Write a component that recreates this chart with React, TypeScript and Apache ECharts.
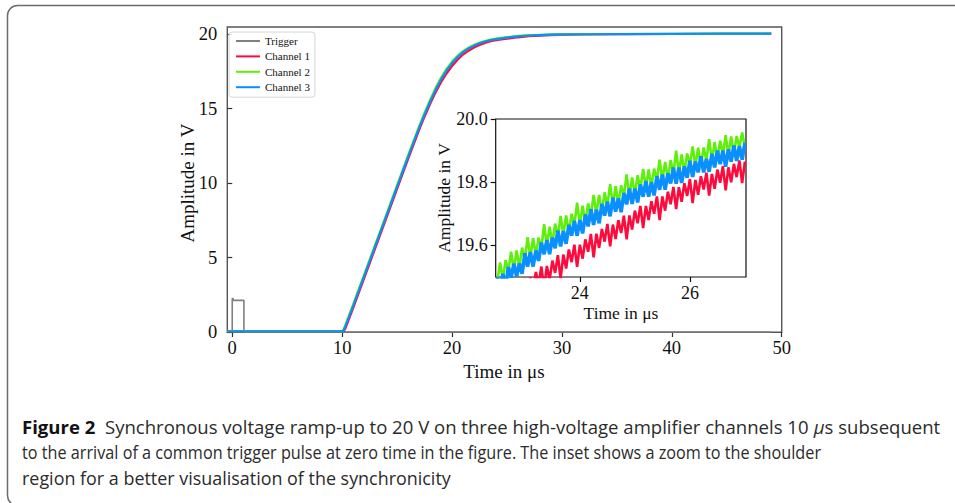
import React, { useEffect, useRef } from "react";
import * as echarts from "echarts";

// ---------- data ----------
const SERIES_NAMES = ["Trigger", "Channel 1", "Channel 2", "Channel 3"];
const SERIES_COLORS = ["#808080", "#ff0a3c", "#5ef00a", "#0a8fff"];

const TRIGGER: [number, number][] = [
  [0, 0], [0, 2.25], [0.08, 2.25], [0.1, 2.12], [1.06, 2.12], [1.06, 0], [49.05, 0],
];

const CH1_MAIN: [number, number][] = [
  [-0.45, 0.05], [10.15, 0.05], [10.3, 0.25], [11, 1.6], [12, 3.6], [13, 5.6], [14, 7.6], [15, 9.6],
  [16, 11.6], [17, 13.55], [17.5, 14.45], [18, 15.3], [18.5, 16.08], [19, 16.76], [19.5, 17.35],
  [20, 17.85], [20.5, 18.27], [21, 18.62], [21.5, 18.88], [22, 19.09], [22.5, 19.26], [23, 19.4],
  [23.5, 19.52], [24, 19.58], [25, 19.685], [26, 19.78], [27, 19.85], [28, 19.89], [29, 19.92],
  [30, 19.94], [32, 19.965], [35, 19.985], [40, 20.0], [45, 20.01], [49.05, 20.02],
];

const CH2_MAIN: [number, number][] = [
  [-0.45, 0.05], [10.05, 0.05], [10.2, 0.3], [11, 1.85], [12, 3.85], [13, 5.85], [14, 7.85], [15, 9.85],
  [16, 11.85], [17, 13.8], [17.5, 14.72], [18, 15.58], [18.5, 16.38], [19, 17.08], [19.5, 17.66],
  [20, 18.15], [20.5, 18.54], [21, 18.85], [21.5, 19.09], [22, 19.27], [22.5, 19.42], [23, 19.53],
  [23.5, 19.63], [24, 19.69], [25, 19.79], [26, 19.87], [27, 19.92], [28, 19.95], [29, 19.97],
  [30, 19.98], [32, 19.995], [35, 20.0], [40, 20.015], [45, 20.02], [49.05, 20.03],
];

const CH3_MAIN: [number, number][] = [
  [-0.45, 0.05], [10.1, 0.05], [10.25, 0.3], [11, 1.75], [12, 3.75], [13, 5.75], [14, 7.75], [15, 9.75],
  [16, 11.75], [17, 13.7], [17.5, 14.6], [18, 15.45], [18.5, 16.25], [19, 16.95], [19.5, 17.55],
  [20, 18.05], [20.5, 18.45], [21, 18.78], [21.5, 19.03], [22, 19.22], [22.5, 19.38], [23, 19.5],
  [23.5, 19.6], [24, 19.66], [25, 19.76], [26, 19.84], [27, 19.9], [28, 19.93], [29, 19.955],
  [30, 19.97], [32, 19.985], [35, 19.995], [40, 20.01], [45, 20.02], [49.05, 20.03],
];

// inset (zoom into the shoulder), sampled every 0.05 µs
const INSET_TIME = [
  22.5, 22.55, 22.6, 22.65, 22.7, 22.75, 22.8, 22.85, 22.9, 22.95,
  23.0, 23.05, 23.1, 23.15, 23.2, 23.25, 23.3, 23.35, 23.4, 23.45,
  23.5, 23.55, 23.6, 23.65, 23.7, 23.75, 23.8, 23.85, 23.9, 23.95,
  24.0, 24.05, 24.1, 24.15, 24.2, 24.25, 24.3, 24.35, 24.4, 24.45,
  24.5, 24.55, 24.6, 24.65, 24.7, 24.75, 24.8, 24.85, 24.9, 24.95,
  25.0, 25.05, 25.1, 25.15, 25.2, 25.25, 25.3, 25.35, 25.4, 25.45,
  25.5, 25.55, 25.6, 25.65, 25.7, 25.75, 25.8, 25.85, 25.9, 25.95,
  26.0, 26.05, 26.1, 26.15, 26.2, 26.25, 26.3, 26.35, 26.4, 26.45,
  26.5, 26.55, 26.6, 26.65, 26.7, 26.75, 26.8, 26.85, 26.9, 26.95,
  27.0,
];

const INSET_CH1 = [
  19.422, 19.378, 19.439, 19.4, 19.456, 19.387, 19.459, 19.416, 19.478, 19.44,
  19.495, 19.423, 19.499, 19.455, 19.516, 19.477, 19.533, 19.464, 19.535, 19.491,
  19.552, 19.513, 19.569, 19.495, 19.571, 19.527, 19.587, 19.547, 19.602, 19.532,
  19.602, 19.558, 19.619, 19.58, 19.636, 19.562, 19.637, 19.592, 19.652, 19.612,
  19.668, 19.597, 19.666, 19.62, 19.68, 19.639, 19.694, 19.619, 19.695, 19.65,
  19.71, 19.67, 19.725, 19.655, 19.725, 19.68, 19.74, 19.7, 19.755, 19.68,
  19.755, 19.71, 19.77, 19.73, 19.785, 19.715, 19.784, 19.738, 19.797, 19.756,
  19.81, 19.734, 19.807, 19.76, 19.819, 19.777, 19.83, 19.758, 19.826, 19.779,
  19.84, 19.798, 19.851, 19.774, 19.847, 19.8, 19.858, 19.816, 19.869, 19.797,
  19.865,
];

const INSET_CH2 = [
  19.485, 19.546, 19.492, 19.553, 19.519, 19.58, 19.522, 19.584, 19.531, 19.593,
  19.555, 19.626, 19.562, 19.623, 19.569, 19.625, 19.591, 19.667, 19.598, 19.659,
  19.605, 19.669, 19.627, 19.693, 19.634, 19.695, 19.64, 19.7, 19.665, 19.735,
  19.665, 19.726, 19.672, 19.733, 19.694, 19.76, 19.7, 19.76, 19.705, 19.768,
  19.725, 19.794, 19.728, 19.787, 19.731, 19.79, 19.755, 19.825, 19.755, 19.815,
  19.76, 19.822, 19.778, 19.842, 19.781, 19.84, 19.784, 19.843, 19.807, 19.871,
  19.805, 19.864, 19.808, 19.87, 19.826, 19.9, 19.829, 19.888, 19.832, 19.891,
  19.855, 19.913, 19.851, 19.909, 19.852, 19.91, 19.868, 19.936, 19.869, 19.927,
  19.87, 19.931, 19.886, 19.949, 19.887, 19.945, 19.888, 19.946, 19.909, 19.957,
  19.91,
];

const INSET_CH3 = [
  19.5, 19.461, 19.51, 19.468, 19.532, 19.498, 19.542, 19.502, 19.543, 19.51,
  19.575, 19.533, 19.579, 19.533, 19.584, 19.551, 19.609, 19.572, 19.617, 19.572,
  19.625, 19.591, 19.647, 19.597, 19.645, 19.605, 19.665, 19.631, 19.678, 19.631,
  19.68, 19.638, 19.698, 19.66, 19.714, 19.665, 19.713, 19.67, 19.731, 19.694,
  19.739, 19.692, 19.751, 19.707, 19.749, 19.705, 19.766, 19.73, 19.78, 19.731,
  19.78, 19.736, 19.793, 19.754, 19.804, 19.754, 19.8, 19.758, 19.819, 19.776,
  19.824, 19.776, 19.828, 19.796, 19.846, 19.795, 19.846, 19.798, 19.85, 19.814,
  19.868, 19.817, 19.866, 19.831, 19.882, 19.831, 19.874, 19.833, 19.89, 19.847,
  19.9, 19.857, 19.9, 19.849, 19.904, 19.865, 19.916, 19.867, 19.914, 19.871,
  19.925,
];

const X_TICKS = [0, 10, 20, 30, 40, 50];
const Y_TICKS = [0, 5, 10, 15, 20];
const INSET_X_TICKS = [24, 26];
const INSET_Y_TICKS = [19.6, 19.8, 20.0];

const CAPTION_BOLD = "Figure 2";
const CAPTION_L1A = "  Synchronous voltage ramp-up to 20 V on three high-voltage amplifier channels 10 ";
const CAPTION_MU = "μ";
const CAPTION_L1B = "s subsequent";
const CAPTION_L2 = "to the arrival of a common trigger pulse at zero time in the figure. The inset shows a zoom to the shoulder";
const CAPTION_L3 = "region for a better visualisation of the synchronicity";

// ---------- layout / style ----------
const SERIF = '"Liberation Serif", "Times New Roman", serif';
const SANS = '"Open Sans", "Noto Sans", sans-serif';
const CAP_FS = 18.5;
const CAP_LEFT = 22;
const CAP_WIDTHS = [918, 800, 429];

export default function App() {
  const ref = useRef<HTMLDivElement>(null);

  useEffect(() => {
    if (!ref.current) return;
    const chart = echarts.init(ref.current, undefined, { renderer: "svg" });

    // caption horizontal scale per line, so each line spans the width it has in the original
    const scales = [1, 1, 1];
    const ctx = document.createElement("canvas").getContext("2d");
    if (ctx) {
      ctx.font = `bold ${CAP_FS}px ${SANS}`;
      const wb = ctx.measureText(CAPTION_BOLD).width;
      ctx.font = `${CAP_FS}px ${SANS}`;
      const wr = ctx.measureText(CAPTION_L1A + CAPTION_L1B).width;
      const w2 = ctx.measureText(CAPTION_L2).width;
      const w3 = ctx.measureText(CAPTION_L3).width;
      ctx.font = `italic ${CAP_FS}px ${SANS}`;
      const wm = ctx.measureText(CAPTION_MU).width;
      scales[0] = CAP_WIDTHS[0] / (wb + wr + wm);
      scales[1] = CAP_WIDTHS[1] / w2;
      scales[2] = CAP_WIDTHS[2] / w3;
    }

    const mainSeries = [TRIGGER, CH1_MAIN, CH2_MAIN, CH3_MAIN].map((d, i) => ({
      name: SERIES_NAMES[i],
      type: "line",
      xAxisIndex: 0,
      yAxisIndex: 0,
      data: d,
      showSymbol: false,
      symbol: "none",
      color: SERIES_COLORS[i],
      itemStyle: { color: SERIES_COLORS[i] },
      lineStyle: { color: SERIES_COLORS[i], width: i === 0 ? 1.6 : 2.2 },
      z: 2 + i,
    }));

    const insetWidths = [2.6, 2.6, 3.6];
    const insetSeries = [INSET_CH1, INSET_CH2, INSET_CH3].map((vals, i) => ({
      name: SERIES_NAMES[i + 1] + " (inset)",
      type: "line",
      xAxisIndex: 1,
      yAxisIndex: 1,
      data: INSET_TIME.map((t, k) => [t, vals[k]]),
      showSymbol: false,
      symbol: "none",
      color: SERIES_COLORS[i + 1],
      lineStyle: { color: SERIES_COLORS[i + 1], width: insetWidths[i], join: "miter" },
      clip: true,
      z: 10 + i,
    }));

    const tickLabel = (fs: number, margin: number, digits?: number) => ({
      fontFamily: SERIF,
      fontSize: fs,
      color: "#111",
      margin,
      formatter: (v: number) => (digits !== undefined ? v.toFixed(digits) : String(v)),
    });

    const capStyle = { fontFamily: SANS, fontSize: CAP_FS, fill: "#2b2b2b" };

    const option: any = {
      animation: false,
      backgroundColor: "#ffffff",
      textStyle: { fontFamily: SERIF },
      legend: {
        data: SERIES_NAMES,
        orient: "vertical",
        left: 229,
        top: 32,
        icon: "rect",
        itemWidth: 24,
        itemHeight: 2,
        itemGap: 3.4,
        padding: [3, 5, 4, 7],
        borderColor: "#d6d6d6",
        borderWidth: 1,
        borderRadius: 3,
        backgroundColor: "rgba(255,255,255,0.85)",
        selectedMode: false,
        textStyle: { fontFamily: SERIF, fontSize: 11, color: "#111", lineHeight: 12 },
      },
      grid: [
        {
          left: 227.3, top: 27, width: 554.4, height: 305.3,
          show: true, borderColor: "#555", borderWidth: 1.4, backgroundColor: "transparent",
        },
        {
          left: 495.7, top: 119, width: 250.3, height: 158,
          show: true, borderColor: "#111", borderWidth: 1.2, backgroundColor: "#ffffff",
        },
      ],
      xAxis: [
        {
          type: "value", gridIndex: 0, min: -0.45, max: 50,
          axisLine: { show: false }, splitLine: { show: false },
          axisTick: { show: true, length: 5, customValues: X_TICKS, lineStyle: { color: "#333", width: 1.2 } },
          axisLabel: { ...tickLabel(18.5, 6), customValues: X_TICKS },
        },
        {
          type: "value", gridIndex: 1, min: 22.47, max: 27.02,
          axisLine: { show: false }, splitLine: { show: false },
          axisTick: { show: true, length: 5, customValues: INSET_X_TICKS, lineStyle: { color: "#111", width: 1.2 } },
          axisLabel: { ...tickLabel(18, 7), customValues: INSET_X_TICKS },
        },
      ],
      yAxis: [
        {
          type: "value", gridIndex: 0, min: -0.02, max: 20.47,
          axisLine: { show: false }, splitLine: { show: false },
          axisTick: { show: true, length: 5, customValues: Y_TICKS, lineStyle: { color: "#333", width: 1.2 } },
          axisLabel: { ...tickLabel(18.5, 10), customValues: Y_TICKS },
        },
        {
          type: "value", gridIndex: 1, min: 19.5, max: 20.0,
          axisLine: { show: false }, splitLine: { show: false },
          axisTick: { show: true, length: 5, customValues: INSET_Y_TICKS, lineStyle: { color: "#111", width: 1.2 } },
          axisLabel: { ...tickLabel(18, 8, 1), customValues: INSET_Y_TICKS },
        },
      ],
      series: [...mainSeries, ...insetSeries],
      graphic: [
        {
          type: "rect", silent: true, z: 100,
          shape: { x: 7.5, y: 5.5, width: 970, height: 500, r: 10 },
          style: { fill: "none", stroke: "#6a6a6a", lineWidth: 1.5 },
        },
        {
          type: "text", x: 504, y: 371, z: 100,
          style: { text: "Time in μs", fontFamily: SERIF, fontSize: 19, fill: "#111", align: "center", verticalAlign: "middle" },
        },
        {
          type: "text", x: 187, y: 183, rotation: Math.PI / 2, z: 100,
          style: { text: "Amplitude in V", fontFamily: SERIF, fontSize: 19, fill: "#111", align: "center", verticalAlign: "middle" },
        },
        {
          type: "text", x: 621, y: 313, z: 100,
          style: { text: "Time in μs", fontFamily: SERIF, fontSize: 17.5, fill: "#111", align: "center", verticalAlign: "middle" },
        },
        {
          type: "text", x: 444, y: 198, rotation: Math.PI / 2, z: 100,
          style: { text: "Amplitude in V", fontFamily: SERIF, fontSize: 17.5, fill: "#111", align: "center", verticalAlign: "middle" },
        },
        {
          type: "text", x: CAP_LEFT, y: 427, scaleX: scales[0], z: 100,
          style: {
            text: `{b|${CAPTION_BOLD}}{n|${CAPTION_L1A}}{i|${CAPTION_MU}}{n|${CAPTION_L1B}}`,
            align: "left", verticalAlign: "middle", ...capStyle,
            rich: {
              b: { fontFamily: SANS, fontSize: CAP_FS, fontWeight: "bold", fill: "#111" },
              n: { fontFamily: SANS, fontSize: CAP_FS, fill: "#2b2b2b" },
              i: { fontFamily: SANS, fontSize: CAP_FS, fontStyle: "italic", fill: "#2b2b2b" },
            },
          },
        },
        {
          type: "text", x: CAP_LEFT, y: 452, scaleX: scales[1], z: 100,
          style: { text: CAPTION_L2, align: "left", verticalAlign: "middle", ...capStyle },
        },
        {
          type: "text", x: CAP_LEFT, y: 478, scaleX: scales[2], z: 100,
          style: { text: CAPTION_L3, align: "left", verticalAlign: "middle", ...capStyle },
        },
      ],
    };

    chart.setOption(option);
    return () => chart.dispose();
  }, []);

  return (
    <div
      ref={ref}
      style={{ position: "fixed", left: 0, top: 0, width: 955, height: 503, background: "#fff" }}
    />
  );
}
